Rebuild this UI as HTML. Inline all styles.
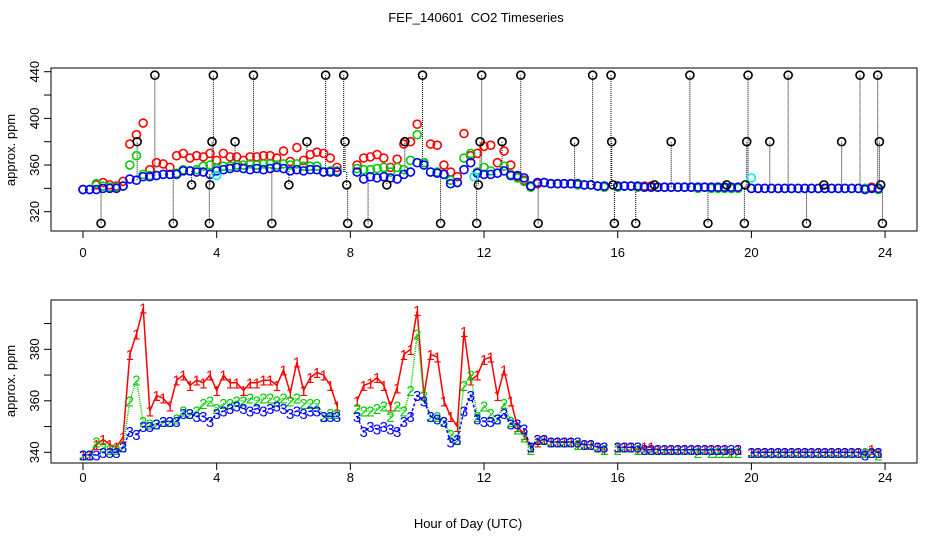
<!DOCTYPE html>
<html><head><meta charset="utf-8"><style>
html,body{margin:0;padding:0;background:#fff}
svg{display:block;font-family:"Liberation Sans",sans-serif}
</style></head><body>
<svg id="chart" width="936" height="540" viewBox="0 0 936 540" xmlns="http://www.w3.org/2000/svg">
<rect width="936" height="540" fill="#fff"/>
<text x="476" y="22" font-size="13" text-anchor="middle">FEF_140601&#160; CO2 Timeseries</text>
<text x="468" y="528" font-size="13" text-anchor="middle">Hour of Day (UTC)</text>
<text transform="translate(15,150) rotate(-90)" font-size="13" text-anchor="middle">approx. ppm</text>
<text transform="translate(15,381) rotate(-90)" font-size="13" text-anchor="middle">approx. ppm</text>
<rect x="51" y="68" width="866" height="163" fill="none" stroke="#000"/>
<rect x="51" y="300" width="866" height="163" fill="none" stroke="#000"/>
<g id="topPanel"></g><g id="botPanel"></g>
</svg>
<script>
const hours = [];
for (let i = 0; i < 120; i++) hours.push(+(i * 0.2).toFixed(1));
const series1 = [339,339,343,345,343,342,346,378,386,396,
356,362,361,358,368,370,366,368,367,370,
364,370,367,367,364,367,367,368,368,366,
372,363,375,364,369,371,370,366,358,null,
null,360,366,367,369,366,358,365,378,380,
395,362,378,377,360,354,350,387,368,370,
376,377,362,372,360,350,347,342,344,345,
344,344,344,344,343,343,343,342,341,null,
342,342,342,341,342,342,341,341,341,341,
341,341,341,341,341,341,341,340,341,null,
340,340,340,340,340,340,340,340,340,340,
340,340,340,340,340,340,340,340,341,340];
const series2 = [339,339,344,342,341,341,342,360,368,352,
351,351,352,352,353,356,355,356,359,360,
357,359,359,360,360,361,360,361,361,360,
361,360,361,359,359,359,354,355,355,null,
null,357,356,356,357,358,354,358,356,364,
386,362,354,354,352,347,345,366,370,354,
358,355,353,359,352,349,346,341,345,345,
344,344,344,344,343,343,343,342,341,null,
341,342,342,341,341,341,341,341,341,341,
341,341,340,341,340,340,340,340,340,null,
340,340,340,340,340,340,340,340,340,340,
340,340,340,340,340,340,340,340,340,339];
const series3 = [339,339,339,340,340,340,342,348,347,350,
350,351,352,352,352,355,355,354,354,352,
355,356,357,358,357,356,357,356,357,358,
357,355,356,355,356,356,354,354,354,null,
null,354,348,350,349,350,349,348,352,354,
362,360,354,353,352,344,345,356,362,353,
352,352,353,355,351,351,349,342,345,345,
344,344,344,344,344,343,343,342,342,null,
342,342,342,342,341,341,341,341,341,341,
341,341,341,341,341,341,341,341,341,null,
340,340,340,340,340,340,340,340,340,340,
340,340,340,340,340,340,340,339,340,340];
const outlierHours = [2.15,3.9,5.1,7.26,7.8,10.16,11.93,13.1,15.25,15.8,18.16,19.9,21.1,23.25,23.78,
0.54,2.7,3.78,5.65,7.92,8.53,10.7,11.78,13.62,15.9,16.54,18.7,19.79,21.65,23.92,
1.62,3.86,4.55,6.7,7.84,9.63,11.88,12.54,14.71,15.82,17.6,19.86,20.55,22.7,23.83,
3.25,3.8,6.16,7.89,9.09,11.83,15.86,17.1,19.26,19.82,22.17,23.87];
const outlierValues = [437,437,437,437,437,437,437,437,437,437,437,437,437,437,437,
310,310,310,310,310,310,310,310,310,310,310,310,310,310,310,
380,380,380,380,380,380,380,380,380,380,380,380,380,380,380,
343,343,343,343,343,343,343,343,343,343,343,343];
const cyanHours = [4.0,11.7,20.0];
const cyanValues = [351,350,349];
const xTicks = [0,4,8,12,16,20,24];
const topYTicks = [320,340,360,380,400,420,440];
const topYLabels = [320,360,400,440];
const botYTicks = [340,350,360,370,380,390];
const botYLabels = [340,360,380];

const NS = "http://www.w3.org/2000/svg";
const X = h => 83 + h * 33.42;
const Yt = v => 71.7 + (440 - v) * 1.1667;
const Yb = v => 452.3 - (v - 340) * 2.575;
function mk(parent, tag, attrs) {
  const e = document.createElementNS(NS, tag);
  for (const k in attrs) e.setAttribute(k, attrs[k]);
  parent.appendChild(e); return e;
}
const gTop = document.getElementById('topPanel'), gBot = document.getElementById('botPanel');

function axes(g, Y, yTicks, yLabels, bottomY, labY, pfx) {
  xTicks.forEach(t => {
    const l = mk(g, 'line', {x1: X(t), x2: X(t), y1: bottomY, y2: bottomY + 7, stroke: '#000'});
    
    
    const tx = mk(g, 'text', {x: X(t), y: labY, 'font-size': 13, 'text-anchor': 'middle'});
    tx.textContent = t;
    
    
  });
  yTicks.forEach(t => {
    const l = mk(g, 'line', {x1: 44, x2: 51, y1: Y(t), y2: Y(t), stroke: '#000'});
    
    
  });
  yLabels.forEach(t => {
    const tx = mk(g, 'text', {transform: `translate(39,${Y(t)}) rotate(-90)`, 'font-size': 13, 'text-anchor': 'middle'});
    tx.textContent = t;
    
    
  });
}
axes(gTop, Yt, topYTicks, topYLabels, 231, 257, 'top');
axes(gBot, Yb, botYTicks, botYLabels, 463, 482, 'bottom');

outlierHours.forEach((h, i) => {
  const idx = Math.min(119, Math.round(h / 0.2));
  let base = series3[idx]; if (base == null) base = series3[idx - 1] || 341;
  const l = mk(gTop, 'line', {x1: X(h), x2: X(h), y1: Yt(base), y2: Yt(outlierValues[i]), stroke: '#000', 'stroke-width': 1, 'stroke-dasharray': '1,1'});
  
  
});
function circles(vals, hs, color, name) {
  vals.forEach((v, i) => {
    if (v == null) return;
    const c = mk(gTop, 'circle', {cx: X(hs[i]), cy: Yt(v), r: 4, fill: 'none', stroke: color, 'stroke-width': 1.6});
    
    
  });
}
circles(series1, hours, '#f00', 'series1-point');
circles(series2, hours, '#0c0', 'series2-point');
circles(series3, hours, '#00f', 'series3-point');
circles(outlierValues, outlierHours, '#000', 'outlier-point');
circles(cyanValues, cyanHours, '#0ee', 'cyan-point');

function lineSeries(vals, color, dash, label, name) {
  let d = '', pen = false;
  vals.forEach((v, i) => {
    if (v == null) { pen = false; return; }
    d += (pen ? 'L' : 'M') + X(hours[i]).toFixed(1) + ',' + Yb(v).toFixed(1);
    pen = true;
  });
  const p = mk(gBot, 'path', {d: d, fill: 'none', stroke: color, 'stroke-width': 1.5, 'stroke-dasharray': dash});
  
  
  vals.forEach((v, i) => {
    if (v == null) return;
    const t = mk(gBot, 'text', {x: X(hours[i]), y: Yb(v) + 5.5, 'font-size': 15, 'text-anchor': 'middle', fill: color});
    t.textContent = label;
    
    
  });
}
lineSeries(series1, '#f00', 'none', '1', 'series1');
lineSeries(series2, '#0c0', '1,1', '2', 'series2');
lineSeries(series3, '#00f', '3,2', '3', 'series3');
</script>
</body></html>
